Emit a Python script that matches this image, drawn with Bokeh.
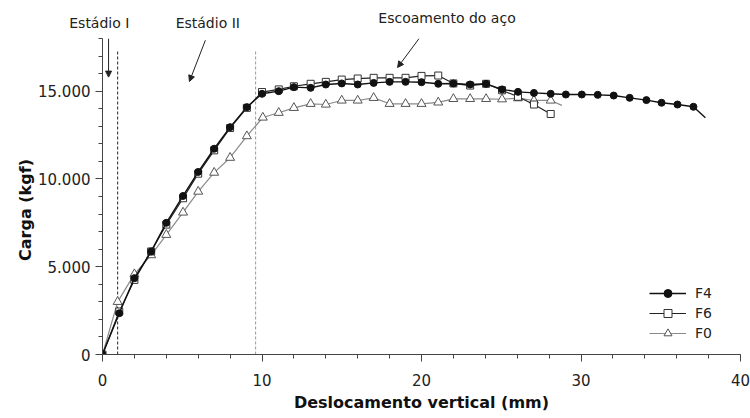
import math
from bokeh.plotting import figure
from bokeh.models import FixedTicker, Arrow, NormalHead, Legend, LegendItem
from bokeh.core.properties import value
from bokeh.embed import file_html
from bokeh.resources import INLINE

# ---------------- data ----------------
f4_x = [0, 1.05, 2, 3.05, 4, 5.05, 6, 7, 8, 9.05, 10, 11.05, 12, 13.05, 14, 15, 16, 17, 18, 19, 20,
        21.05, 22, 23.05, 24.05, 25.05, 26.05, 27.05, 28.1, 29.05, 30.05, 31.05, 32.05, 33.05, 34.1,
        35.05, 36.05, 37.05]
f4_y = [0, 2350, 4350, 5870, 7500, 9030, 10400, 11720, 12950, 14090, 14850, 15000, 15230, 15190,
        15380, 15440, 15380, 15470, 15530, 15530, 15510, 15420, 15440, 15380, 15420, 15100, 14960,
        14900, 14850, 14810, 14810, 14790, 14750, 14620, 14490, 14340, 14240, 14110]
f4_tail = (37.8, 13480)

f6_x = [0, 1.05, 2, 3.05, 4, 5.05, 6, 7, 8, 9.05, 10, 11.05, 12, 13.05, 14, 15, 16, 17, 18, 19, 20,
        21.05, 22, 23.05, 24.05, 25.05, 26.05, 27.05, 28.1]
f6_y = [0, 2450, 4250, 5870, 7400, 8900, 10300, 11630, 12900, 14050, 14950, 15100, 15280, 15420,
        15530, 15660, 15720, 15760, 15760, 15760, 15870, 15890, 15440, 15320, 15420, 15050, 14680,
        14240, 13700]

f0_x = [0, 0.95, 2, 3.05, 4, 5.05, 6, 7, 8, 9.05, 10.05, 11.05, 12, 13.05, 14, 15, 16, 17, 18, 19,
        20, 21.05, 22, 23.05, 24.05, 25.05, 26.05, 27.05, 28.1]
f0_y = [0, 3000, 4580, 5660, 6820, 8090, 9280, 10360, 11210, 12440, 13500, 13770, 14050, 14280,
        14240, 14470, 14470, 14620, 14280, 14280, 14280, 14360, 14560, 14560, 14560, 14540, 14600,
        14470, 14470]
f0_tail = (28.8, 14190)

stage_lines_x = [0.95, 9.6]
stage_lines_top = 17300

y_major = [0, 5000, 10000, 15000]
y_labels = ["0", "5.000", "10.000", "15.000"]
y_minor = list(range(0, 18001, 1000))
x_major = [0, 10, 20, 30, 40]
x_minor = list(range(0, 41, 2))

ann_text = ["Estádio I", "Estádio II", "Escoamento do aço"]
ann_text_x = [-0.2, 6.6, 21.6]
ann_text_y = [18860, 18860, 19150]
arrow_start = [(0.38, 18000), (6.45, 17900), (19.85, 18000)]
arrow_end = [(0.38, 15800), (5.45, 15550), (18.5, 16350)]

y_title = "Carga (kgf)"
y_title_pos = (-4.85, 8230)

FONT = "DejaVu Sans"

p = figure(width=750, height=418, output_backend="svg", toolbar_location=None,
           x_range=(0, 40), y_range=(0, 18000),
           min_border_left=102, min_border_right=10, min_border_top=38, min_border_bottom=64)
p.background_fill_color = "white"
p.border_fill_color = "white"
p.outline_line_color = None
p.grid.grid_line_color = None

p.yaxis.ticker = FixedTicker(ticks=y_major, minor_ticks=y_minor)
p.yaxis.major_label_overrides = {v: s for v, s in zip(y_major, y_labels)}
p.xaxis.ticker = FixedTicker(ticks=x_major, minor_ticks=x_minor)
for ax in (p.xaxis[0], p.yaxis[0]):
    ax.axis_line_color = "#444444"
    ax.major_tick_line_color = "#444444"
    ax.minor_tick_line_color = "#444444"
    ax.major_tick_in = 0
    ax.major_tick_out = 7
    ax.minor_tick_in = 0
    ax.minor_tick_out = 4
    ax.major_label_text_font = FONT
    ax.major_label_text_font_size = "15px"
    ax.major_label_text_color = "#222222"
p.yaxis.major_label_standoff = 5
p.xaxis.major_label_standoff = 12
p.xaxis.axis_label = "Deslocamento vertical (mm)"
p.xaxis.axis_label_text_font = FONT
p.xaxis.axis_label_text_font_style = "bold"
p.xaxis.axis_label_text_font_size = "16px"
p.xaxis.axis_label_text_color = "#111111"
p.xaxis.axis_label_standoff = 4

# y-axis title (drawn as overlay text so it sits lower than the frame centre, as in the original)
p.text(x=[y_title_pos[0]], y=[y_title_pos[1]], text=[y_title], angle=math.pi / 2,
       text_font=value(FONT), text_font_style="bold", text_font_size="16px",
       text_color="#111111", text_align="center", text_baseline="middle", level="overlay")

# stage boundary dashed lines
p.segment(x0=stage_lines_x[:1], y0=[0], x1=stage_lines_x[:1], y1=[stage_lines_top],
          line_color="#222222", line_dash="3 2", line_width=1)
p.segment(x0=stage_lines_x[1:], y0=[0], x1=stage_lines_x[1:], y1=[stage_lines_top],
          line_color="#999999", line_dash="3 2", line_width=1)

# series
l0 = p.line(f0_x + [f0_tail[0]], f0_y + [f0_tail[1]], line_color="#8a8a8a", line_width=1.2)
s0 = p.scatter(f0_x, f0_y, marker="triangle", size=9, fill_color="white",
               line_color="#555555", line_width=1)
l6 = p.line(f6_x, f6_y, line_color="#222222", line_width=1.2)
s6 = p.scatter(f6_x, f6_y, marker="square", size=7, fill_color="white",
               line_color="#333333", line_width=1)
l4 = p.line(f4_x + [f4_tail[0]], f4_y + [f4_tail[1]], line_color="#111111", line_width=1.4)
s4 = p.scatter(f4_x, f4_y, marker="circle", size=7, fill_color="#111111",
               line_color="#111111")

legend = Legend(items=[LegendItem(label="F4", renderers=[l4, s4]),
                       LegendItem(label="F6", renderers=[l6, s6]),
                       LegendItem(label="F0", renderers=[l0, s0])],
                location=(547, 11), border_line_color=None, background_fill_alpha=0,
                padding=0, margin=0, spacing=0, label_height=20, glyph_height=20,
                glyph_width=37, label_standoff=9, label_text_font=FONT,
                label_text_font_size="14px", label_text_color="#222222")
p.add_layout(legend)

# annotations
p.text(x=ann_text_x, y=ann_text_y, text=ann_text, text_font=value(FONT),
       text_font_size="14px", text_color="#222222", text_align="center",
       text_baseline="middle", level="overlay")
for (ax0, ay0), (ax1, ay1) in zip(arrow_start, arrow_end):
    p.add_layout(Arrow(x_start=ax0, y_start=ay0, x_end=ax1, y_end=ay1,
                       line_color="#222222", line_width=1,
                       end=NormalHead(size=6, fill_color="#222222", line_color="#222222")))

open("out.html", "w").write(file_html(p, INLINE))
